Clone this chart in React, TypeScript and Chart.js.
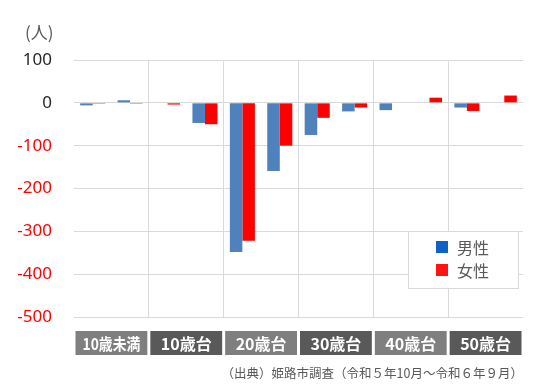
import React, { useEffect, useRef } from "react";
import { Chart, registerables } from "chart.js";

Chart.register(...registerables);

// Sub-age categories (two per decade group, labels hidden in the chart)
const subCategories = [
  "0〜4歳", "5〜9歳", "10〜14歳", "15〜19歳", "20〜24歳", "25〜29歳",
  "30〜34歳", "35〜39歳", "40〜44歳", "45〜49歳", "50〜54歳", "55〜59歳",
];
const groupLabels = ["10歳未満", "10歳台", "20歳台", "30歳台", "40歳台", "50歳台"];
const maleValues = [-6, 6, 0, -47, -348, -159, -75, -20, -17, 0, -11, 0];
const femaleValues = [-2, -2, -4, -50, -322, -100, -35, -11, 0, 12, -19, 17];
const yTicks = [100, 0, -100, -200, -300, -400, -500];
const seriesNames = ["男性", "女性"];

const unitLabel = "(人)";
const sourceLabel = "（出典）姫路市調査（令和５年10月～令和６年９月）";

const decorPlugin = {
  id: "decor",
  afterDraw(chart: any) {
    const ctx = chart.ctx as CanvasRenderingContext2D;
    const ca = chart.chartArea;
    const x = chart.scales.x;
    ctx.save();
    // unit label
    ctx.fillStyle = "#595959";
    ctx.font = "17px 'Noto Sans CJK JP'";
    ctx.textAlign = "left";
    ctx.textBaseline = "middle";
    ctx.fillText(unitLabel, 25, 33);

    // group label boxes
    const step = x.getPixelForValue(1) - x.getPixelForValue(0);
    groupLabels.forEach((lbl, g) => {
      const c = (x.getPixelForValue(2 * g) + x.getPixelForValue(2 * g + 1)) / 2;
      const left = c - step + 1.5;
      const w = 2 * step - 3;
      const top = ca.bottom + 14;
      ctx.fillStyle = g % 2 === 0 ? "#7f7f7f" : "#595959";
      ctx.fillRect(left, top, w, 24);
      ctx.fillStyle = "#ffffff";
      ctx.font = "bold 16px 'Noto Sans CJK JP'";
      ctx.textAlign = "center";
      ctx.textBaseline = "middle";
      ctx.fillText(lbl, c, top + 12.5, w - 14);
    });

    // source
    ctx.fillStyle = "#595959";
    ctx.font = "12.5px 'Noto Sans CJK JP'";
    ctx.textAlign = "right";
    ctx.textBaseline = "middle";
    ctx.fillText(sourceLabel, ca.right, ca.bottom + 56);

    // legend
    const lx = ca.right - 115;
    const ly = ca.top + 171;
    ctx.fillStyle = "#ffffff";
    ctx.fillRect(lx, ly, 110, 57);
    ctx.strokeStyle = "#d9d9d9";
    ctx.lineWidth = 1;
    ctx.strokeRect(lx + 0.5, ly + 0.5, 110, 57);
    const legendColors = ["#0f62c4", "#ff1414"];
    seriesNames.forEach((n, i) => {
      const yy = ly + 10 + i * 23;
      ctx.fillStyle = legendColors[i];
      ctx.fillRect(lx + 28, yy, 12, 12);
      ctx.fillStyle = "#595959";
      ctx.font = "16px 'Noto Sans CJK JP'";
      ctx.textAlign = "left";
      ctx.textBaseline = "middle";
      ctx.fillText(n, lx + 49, yy + 6.5);
    });
    ctx.restore();
  },
};

export default function App() {
  const ref = useRef<HTMLCanvasElement | null>(null);
  useEffect(() => {
    document.body.style.margin = "0";
    if (!ref.current) return;
    const chart = new Chart(ref.current, {
      type: "bar",
      data: {
        labels: subCategories,
        datasets: [
          {
            label: seriesNames[0],
            data: maleValues,
            backgroundColor: "#4f81bd",
            categoryPercentage: 0.67,
            barPercentage: 1,
          },
          {
            label: seriesNames[1],
            data: femaleValues,
            backgroundColor: "#ff0000",
            categoryPercentage: 0.67,
            barPercentage: 1,
          },
        ],
      },
      options: {
        responsive: false,
        animation: false,
        devicePixelRatio: 1,
        layout: { padding: { left: 0, top: 60, right: 28, bottom: 75 } },
        plugins: { legend: { display: false }, tooltip: { enabled: false } },
        scales: {
          x: {
            ticks: { display: false },
            border: { display: false },
            grid: {
              offset: true,
              drawTicks: false,
              color: (ctx: any) => {
                const i = ctx.index;
                return i > 0 && i < subCategories.length && i % 2 === 0 ? "#d9d9d9" : "rgba(0,0,0,0)";
              },
            },
            afterFit: (s: any) => {
              s.height = 0;
            },
          },
          y: {
            min: -500,
            max: 100,
            afterBuildTicks: (s: any) => {
              s.ticks = yTicks.map((v) => ({ value: v }));
            },
            ticks: {
              stepSize: 100,
              padding: 22,
              font: { family: "'Noto Sans'", size: 17 },
              color: (ctx: any) => (ctx.tick && ctx.tick.value < 0 ? "#ff0000" : "#262626"),
            },
            border: { display: false },
            grid: { color: "#d9d9d9", drawTicks: false },
            afterFit: (s: any) => {
              s.width = 74;
            },
          },
        },
      },
      plugins: [decorPlugin],
    });
    return () => chart.destroy();
  }, []);
  return (
    <div style={{ width: 551, height: 392, background: "#fff" }}>
      <canvas ref={ref} width={551} height={392} />
    </div>
  );
}
